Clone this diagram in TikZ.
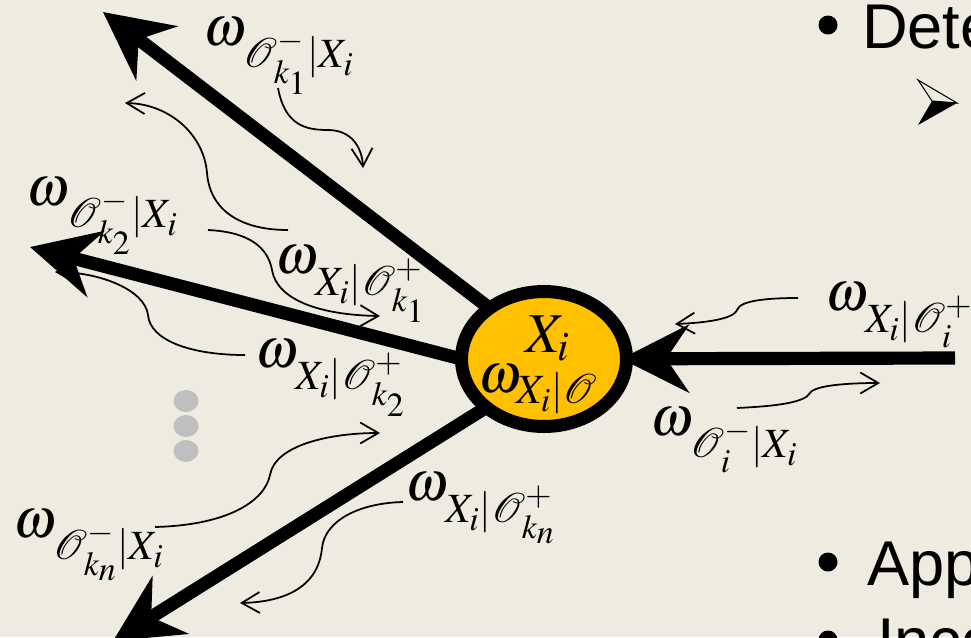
\documentclass[tikz,border=0pt]{standalone}
\usepackage{mathptmx}
\usepackage[no-math]{fontspec}
\setmainfont{Liberation Serif}
\newfontfamily\slidefont{Liberation Sans}
\usetikzlibrary{arrows.meta,shapes.geometric}
\definecolor{paper}{HTML}{EEECE1}
\definecolor{gold}{HTML}{FFC000}
\definecolor{dots}{HTML}{BFBFBF}
\tikzset{
  every node/.style={inner sep=0pt,outer sep=0pt},
  heavy/.style={-{Stealth[length=1.35cm,width=1.35cm,inset=.45cm]},line width=7.5pt},
  wiggle/.style={-{Straight Barb[length=.36cm,width=.42cm]},line width=1pt},
  wlabel/.style={anchor=base west,font=\fontsize{32}{38}\selectfont},
  slide/.style={anchor=base west,font=\slidefont\fontsize{36}{42}\selectfont},
  var/.style={ellipse,draw,line width=7.4pt,fill=gold,minimum width=3.3cm,
              minimum height=2.7cm},
}
% a message omega with its subscript set low, as on the slide
\newcommand{\msg}[1]{\omega\mkern-1mu\lower13pt\hbox{$\scriptstyle#1$}}

\begin{document}
\begin{tikzpicture}[x=.02cm,y=-.02cm]     % one unit is one pixel, y runs down
\path[use as bounding box] (0,0) rectangle (971,637);
\clip (0,0) rectangle (971,637);
\fill[paper] (0,0) rectangle (971,637);

% the variable X_i with its three outgoing links and one incoming link
\node[var] (xi) at (544,359) {};
\coordinate (t1) at (103,12);
\coordinate (t2) at (30,247);
\coordinate (t3) at (113,641);
\coordinate (src) at (955,358);
\draw[heavy] (xi.137) -- (t1);
\draw[heavy] (xi.180) -- (t2);
\draw[heavy] (xi.220) -- (t3);
\draw[heavy,shorten >=-3pt] (src) -- (xi);
\node[wlabel] (xlab) at (525,352) {$X_i$};
\node[wlabel] (wlab) at (478,392) {$\omega_{X_i|\mathcal{O}}$};

% messages along the links
\node[wlabel] (w1) at (203,45) {$\msg{\mathcal{O}^-_{k_1}|X_i}$};
\node[wlabel] (w2) at (27,205) {$\msg{\mathcal{O}^-_{k_2}|X_i}$};
\node[wlabel] (w3) at (275,273) {$\msg{X_i|\mathcal{O}^+_{k_1}}$};
\node[wlabel] (w4) at (255,367) {$\msg{X_i|\mathcal{O}^+_{k_2}}$};
\node[wlabel] (w5) at (13,537) {$\msg{\mathcal{O}^-_{k_n}|X_i}$};
\node[wlabel] (w6) at (405,500) {$\msg{X_i|\mathcal{O}^+_{k_n}}$};
\node[wlabel] (w7) at (825,310) {$\msg{X_i|\mathcal{O}^+_{i}}$};
\node[wlabel] (w8) at (650,435) {$\msg{\mathcal{O}^-_{i}|X_i}$};

% curly arrows: which way each message travels
\coordinate (a1) at (278,88);  \coordinate (b1) at (363,168);
\coordinate (a2) at (288,230); \coordinate (b2) at (125,103);
\coordinate (a3) at (208,230); \coordinate (b3) at (380,316);
\coordinate (a4) at (245,355); \coordinate (b4) at (55,272);
\coordinate (a5) at (155,527); \coordinate (b5) at (380,433);
\coordinate (a6) at (403,502); \coordinate (b6) at (240,603);
\coordinate (a7) at (798,298); \coordinate (b7) at (675,324);
\coordinate (a8) at (737,408); \coordinate (b8) at (880,383);
\draw[wiggle] (a1) .. controls (285,125) and (305,130) .. (328,130)
                   .. controls (352,130) and (362,148) .. (b1);
\draw[wiggle] (a2) .. controls (240,230) and (210,210) .. (207,173)
                   .. controls (204,135) and (170,104) .. (b2);
\draw[wiggle] (a3) .. controls (250,232) and (268,248) .. (272,270)
                   .. controls (277,300) and (320,315) .. (b3);
\draw[wiggle] (a4) .. controls (190,355) and (150,340) .. (148,315)
                   .. controls (145,290) and (100,272) .. (b4);
\draw[wiggle] (a5) .. controls (230,525) and (265,500) .. (270,475)
                   .. controls (275,445) and (330,433) .. (b5);
\draw[wiggle] (a6) .. controls (360,503) and (325,520) .. (322,548)
                   .. controls (318,590) and (280,602) .. (b6);
\draw[wiggle] (a7) .. controls (770,298) and (740,300) .. (737,310)
                   .. controls (733,320) and (700,323) .. (b7);
\draw[wiggle] (a8) .. controls (780,406) and (805,402) .. (810,393)
                   .. controls (815,385) and (850,383) .. (b8);

% vertical ellipsis between the second and the last link
\foreach \yy in {401,426,451}
  \fill[dots] (186,\yy) ellipse (12.5 and 11);

% the slide text beside the figure, cut by the frame
\fill (828,25) circle (9.5);
\node[slide] (dete) at (862,48) {Dete};
\draw[line width=.6pt,line join=miter] (918,80) -- (957,103) -- (932,101) -- cycle;
\fill (932,101) -- (957,103) -- (918,125) -- cycle;
\fill (828,562) circle (9.5);
\node[slide] (app) at (867,585) {App};
\fill (828,640) circle (9.5);
\node[slide] (inco) at (877,662) {Inco};
\end{tikzpicture}
\end{document}
